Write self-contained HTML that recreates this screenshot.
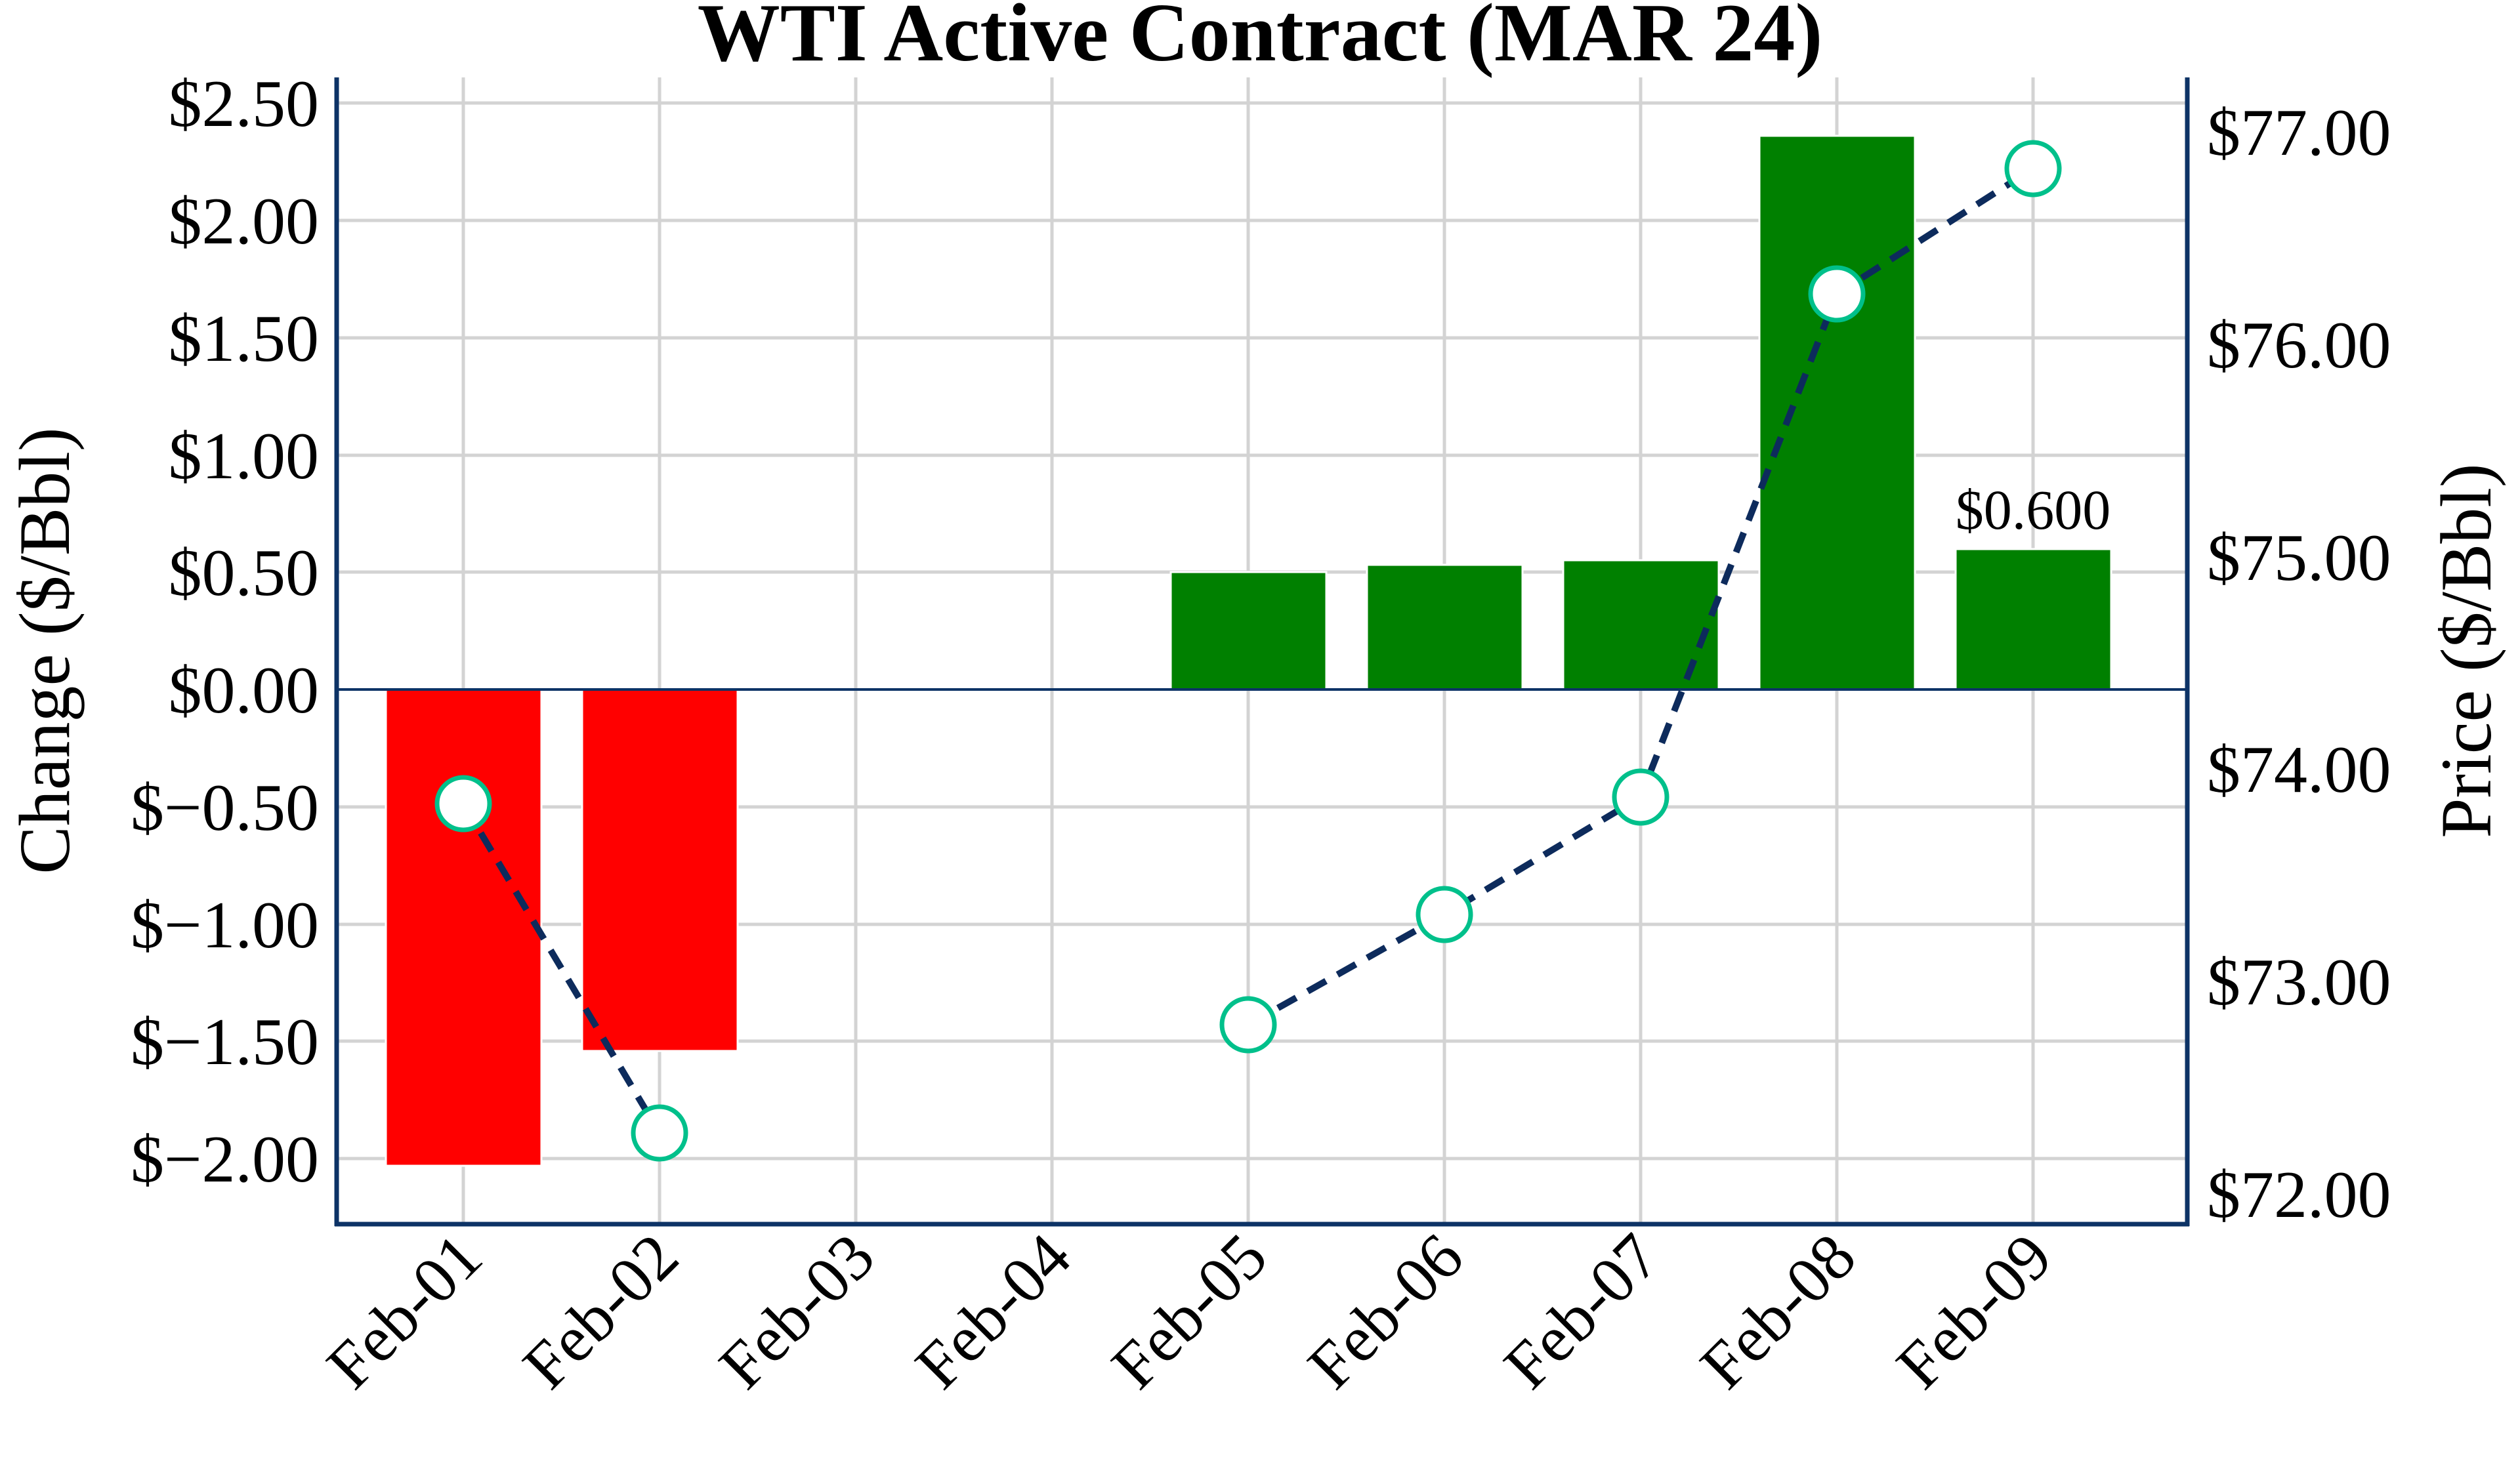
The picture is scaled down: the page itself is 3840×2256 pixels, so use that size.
<!DOCTYPE html>
<html><head><meta charset="utf-8"><style>
html,body{margin:0;padding:0;background:#fff;}
svg{display:block;font-family:"Liberation Serif","Times New Roman",serif;}
</style></head><body>
<svg width="3840" height="2256" viewBox="0 0 3840 2256" xmlns="http://www.w3.org/2000/svg">
<rect width="3840" height="2256" fill="#fff"/>
<text x="1920" y="92" text-anchor="middle" font-size="126" font-weight="bold">WTI Active Contract (MAR 24)</text>
<g stroke="#d3d3d3" stroke-width="5">
<line x1="706" y1="118" x2="706" y2="1866"/>
<line x1="1005" y1="118" x2="1005" y2="1866"/>
<line x1="1304" y1="118" x2="1304" y2="1866"/>
<line x1="1603" y1="118" x2="1603" y2="1866"/>
<line x1="1902" y1="118" x2="1902" y2="1866"/>
<line x1="2201" y1="118" x2="2201" y2="1866"/>
<line x1="2500" y1="118" x2="2500" y2="1866"/>
<line x1="2799" y1="118" x2="2799" y2="1866"/>
<line x1="3098" y1="118" x2="3098" y2="1866"/>
<line x1="513" y1="157" x2="3333" y2="157"/>
<line x1="513" y1="336" x2="3333" y2="336"/>
<line x1="513" y1="515" x2="3333" y2="515"/>
<line x1="513" y1="694" x2="3333" y2="694"/>
<line x1="513" y1="872" x2="3333" y2="872"/>
<line x1="513" y1="1230" x2="3333" y2="1230"/>
<line x1="513" y1="1409" x2="3333" y2="1409"/>
<line x1="513" y1="1587" x2="3333" y2="1587"/>
<line x1="513" y1="1766" x2="3333" y2="1766"/>
</g>
<g stroke="#fff" stroke-width="3">
<rect x="588" y="1051" width="237" height="726" fill="#ff0000"/>
<rect x="887" y="1051" width="237" height="551" fill="#ff0000"/>
<rect x="1784" y="872" width="237" height="179" fill="#008000"/>
<rect x="2083" y="861" width="237" height="190" fill="#008000"/>
<rect x="2382" y="854" width="237" height="197" fill="#008000"/>
<rect x="2681" y="207" width="237" height="844" fill="#008000"/>
<rect x="2980" y="837" width="237" height="214" fill="#008000"/>
</g>
<line x1="513" y1="1051" x2="3333" y2="1051" stroke="#0d3366" stroke-width="4"/>
<text x="3098" y="806" text-anchor="middle" font-size="86">$0.600</text>
<polyline points="706,1225 1005,1727" fill="none" stroke="#0d2b5c" stroke-width="10" stroke-dasharray="32,20"/>
<polyline points="1902,1562 2201,1394 2500,1215 2799,448 3098,257" fill="none" stroke="#0d2b5c" stroke-width="10" stroke-dasharray="32,20"/>
<g fill="#fff" stroke="#00c08b" stroke-width="7">
<circle cx="706" cy="1225" r="40"/>
<circle cx="1005" cy="1727" r="40"/>
<circle cx="1902" cy="1562" r="40"/>
<circle cx="2201" cy="1394" r="40"/>
<circle cx="2500" cy="1215" r="40"/>
<circle cx="2799" cy="448" r="40"/>
<circle cx="3098" cy="257" r="40"/>
</g>
<g stroke="#0d3366" stroke-width="7" fill="none">
<line x1="513" y1="118" x2="513" y2="1869"/>
<line x1="3333" y1="118" x2="3333" y2="1869"/>
<line x1="510" y1="1866" x2="3336" y2="1866"/>
</g>
<g font-size="102" text-anchor="end">
<text x="486" y="192">$2.50</text>
<text x="486" y="371">$2.00</text>
<text x="486" y="550">$1.50</text>
<text x="486" y="729">$1.00</text>
<text x="486" y="907">$0.50</text>
<text x="486" y="1086">$0.00</text>
<text x="486" y="1265">$−0.50</text>
<text x="486" y="1444">$−1.00</text>
<text x="486" y="1622">$−1.50</text>
<text x="486" y="1801">$−2.00</text>
</g>
<g font-size="102">
<text x="3363" y="236">$77.00</text>
<text x="3363" y="560">$76.00</text>
<text x="3363" y="884">$75.00</text>
<text x="3363" y="1207">$74.00</text>
<text x="3363" y="1531">$73.00</text>
<text x="3363" y="1855">$72.00</text>
</g>
<text transform="translate(105,992) rotate(-90)" text-anchor="middle" font-size="110">Change ($/Bbl)</text>
<text transform="translate(3795,992) rotate(-90)" text-anchor="middle" font-size="110">Price ($/Bbl)</text>
<g font-size="100" text-anchor="end">
<text transform="translate(740,1922) rotate(-45)">Feb-01</text>
<text transform="translate(1039,1922) rotate(-45)">Feb-02</text>
<text transform="translate(1338,1922) rotate(-45)">Feb-03</text>
<text transform="translate(1637,1922) rotate(-45)">Feb-04</text>
<text transform="translate(1936,1922) rotate(-45)">Feb-05</text>
<text transform="translate(2235,1922) rotate(-45)">Feb-06</text>
<text transform="translate(2534,1922) rotate(-45)">Feb-07</text>
<text transform="translate(2833,1922) rotate(-45)">Feb-08</text>
<text transform="translate(3132,1922) rotate(-45)">Feb-09</text>
</g>
</svg>
</body></html>
